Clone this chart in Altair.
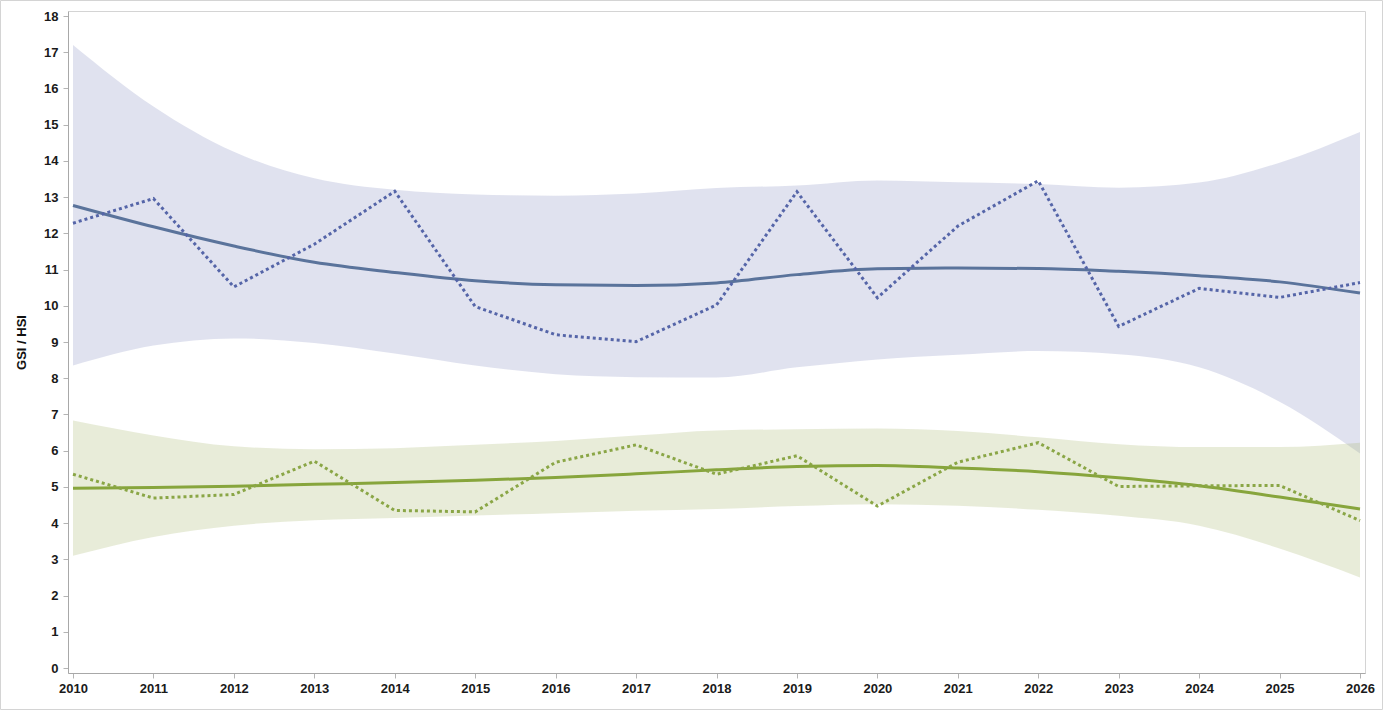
import altair as alt
import pandas as pd

years = list(range(2010, 2027))

gsi_obs = [12.28, 12.96, 10.52, 11.70, 13.16, 9.98, 9.20, 9.01, 10.02, 13.15, 10.22, 12.20, 13.45, 9.43, 10.48, 10.23, 10.64]
gsi_fit = [12.77, 12.18, 11.65, 11.20, 10.92, 10.69, 10.58, 10.56, 10.63, 10.86, 11.02, 11.04, 11.03, 10.95, 10.83, 10.66, 10.35]
gsi_hi = [17.20, 15.50, 14.25, 13.52, 13.20, 13.07, 13.04, 13.10, 13.25, 13.32, 13.46, 13.41, 13.36, 13.26, 13.40, 13.95, 14.80]
gsi_lo = [8.35, 8.90, 9.10, 8.97, 8.68, 8.35, 8.11, 8.03, 8.02, 8.30, 8.52, 8.65, 8.75, 8.66, 8.30, 7.35, 5.92]

hsi_obs = [5.35, 4.69, 4.79, 5.71, 4.35, 4.31, 5.68, 6.16, 5.35, 5.86, 4.47, 5.68, 6.22, 5.01, 5.03, 5.04, 4.07]
hsi_fit = [4.96, 4.98, 5.02, 5.07, 5.12, 5.18, 5.26, 5.36, 5.47, 5.56, 5.59, 5.52, 5.42, 5.25, 5.03, 4.72, 4.39]
hsi_hi = [6.83, 6.42, 6.12, 6.04, 6.07, 6.16, 6.27, 6.42, 6.56, 6.59, 6.61, 6.54, 6.37, 6.18, 6.10, 6.10, 6.22]
hsi_lo = [3.10, 3.62, 3.93, 4.08, 4.14, 4.21, 4.27, 4.34, 4.39, 4.47, 4.52, 4.48, 4.37, 4.20, 3.93, 3.30, 2.50]

df = pd.DataFrame({
    "year": years,
    "gsi_obs": gsi_obs, "gsi_fit": gsi_fit, "gsi_hi": gsi_hi, "gsi_lo": gsi_lo,
    "hsi_obs": hsi_obs, "hsi_fit": hsi_fit, "hsi_hi": hsi_hi, "hsi_lo": hsi_lo,
})

W, H = 1297, 662

xs = alt.Scale(domain=[2010, 2026], padding=5, nice=False, zero=False)
ys = alt.Scale(domain=[0, 18], padding=5, nice=False)

x_axis = alt.Axis(
    values=years, format="d", title=None, grid=False,
    labelFont="Liberation Sans", labelFontSize=13, labelFontWeight="bold",
    labelColor="#1a1a1a",
    labelPadding=4, tickSize=5, tickColor="#b4b4b4", domainColor="#a8a8a8",
    labelFlush=False, labelOverlap=False,
)
y_axis = alt.Axis(
    values=list(range(0, 19)), title="GSI / HSI", grid=False,
    labelFont="Liberation Sans", labelFontSize=13, labelFontWeight="bold",
    labelColor="#1a1a1a",
    labelPadding=5, tickSize=5, tickColor="#b4b4b4", domainColor="#a8a8a8",
    titleFont="Liberation Sans", titleFontSize=13, titleFontWeight="bold",
    titleColor="#111111", titlePadding=15,
)

base = alt.Chart(df)
X = alt.X("year:Q", scale=xs, axis=x_axis, title=None)


def Y(field):
    return alt.Y(field, scale=ys, axis=y_axis, title="GSI / HSI")


gsi_band = base.mark_area(interpolate="monotone", color="#838BBF", opacity=0.25).encode(
    x=X, y=Y("gsi_lo:Q"), y2="gsi_hi:Q")
hsi_band = base.mark_area(interpolate="monotone", color="#A3B367", opacity=0.25).encode(
    x=X, y=Y("hsi_lo:Q"), y2="hsi_hi:Q")

gsi_fit_l = base.mark_line(interpolate="monotone", color="#5A739B", strokeWidth=3).encode(
    x=X, y=Y("gsi_fit:Q"))
gsi_obs_l = base.mark_line(color="#5565A8", strokeWidth=3, strokeDash=[3, 3], strokeCap="butt").encode(
    x=X, y=Y("gsi_obs:Q"))
hsi_fit_l = base.mark_line(interpolate="monotone", color="#87A53C", strokeWidth=3).encode(
    x=X, y=Y("hsi_fit:Q"))
hsi_obs_l = base.mark_line(color="#8AA646", strokeWidth=3, strokeDash=[3, 3], strokeCap="butt").encode(
    x=X, y=Y("hsi_obs:Q"))

frame = alt.Chart(alt.Data(values=[{}])).mark_rect(
    fill=None, stroke="#d4d4d4", strokeWidth=1
).encode(
    x=alt.value(-67.5), x2=alt.value(W + 17.5),
    y=alt.value(-10.5), y2=alt.value(H + 36.5),
)

chart = alt.layer(
    gsi_band, hsi_band, gsi_fit_l, gsi_obs_l, hsi_fit_l, hsi_obs_l, frame
).properties(
    width=W, height=H,
    autosize=alt.AutoSizeParams(type="none"),
    padding={"left": 68, "top": 11, "right": 18, "bottom": 37},
    background="white",
).configure_view(
    stroke="#d4d4d4", strokeWidth=1
)

chart.save("out.html", embed_options={"renderer": "svg", "actions": False})
